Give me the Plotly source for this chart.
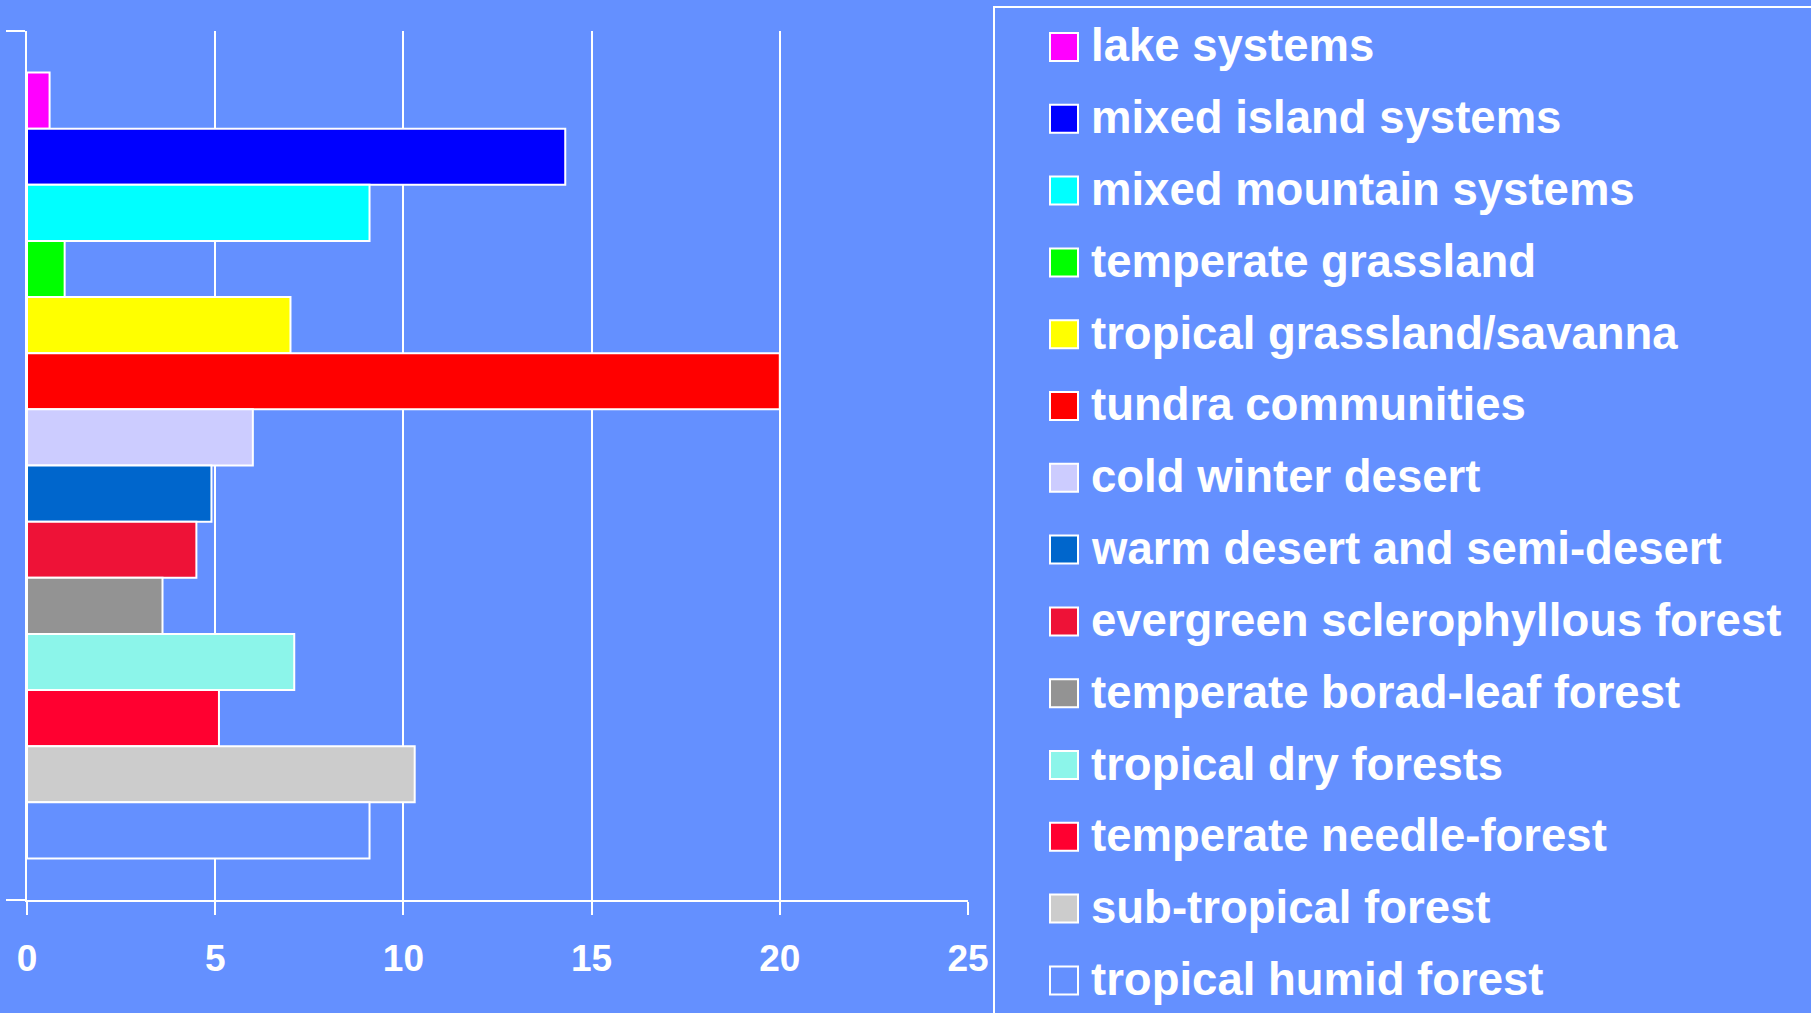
import plotly.graph_objects as go

# Share of area by ecosystem type (%)
categories = [
    "lake systems",
    "mixed island systems",
    "mixed mountain systems",
    "temperate grassland",
    "tropical grassland/savanna",
    "tundra communities",
    "cold winter desert",
    "warm desert and semi-desert",
    "evergreen sclerophyllous forest",
    "temperate borad-leaf forest",
    "tropical dry forests",
    "temperate needle-forest",
    "sub-tropical forest",
    "tropical humid forest",
]
values = [0.6, 14.3, 9.1, 1.0, 7.0, 20.0, 6.0, 4.9, 4.5, 3.6, 7.1, 5.1, 10.3, 9.1]

BG = "#6490FF"
colors = [
    "#FF00FF", "#0000FF", "#00FFFF", "#00FF00", "#FFFF00", "#FF0000",
    "#CCCCFF", "#0066CC", "#EE1237", "#939393", "#8CF5EA", "#FF0030",
    "#CCCCCC", BG,
]

x_ticks = [0, 5, 10, 15, 20, 25]

W, H = 1811, 1013
ML, MR, MT, MB = 27, 843, 31, 113
PW, PH = W - ML - MR, H - MT - MB


def px_x(p):
    return (p - ML) / PW


def px_y(p):
    return (H - MB - p) / PH


FONT = "Liberation Sans, Arial, sans-serif"

fig = go.Figure()
for name, val, col in zip(categories, values, colors):
    fig.add_trace(go.Bar(
        x=[val], y=[""], orientation="h", name=name,
        marker=dict(color=col, line=dict(color="white", width=2)),
        showlegend=False, hoverinfo="skip",
    ))

# Legend panel drawn as shapes and text
shapes = [dict(
    type="rect", xref="paper", yref="paper",
    x0=px_x(994), x1=px_x(1830), y0=px_y(7), y1=px_y(1030),
    line=dict(color="white", width=2), fillcolor="rgba(0,0,0,0)", layer="above",
)]
annotations = []
row0, step = 47, 71.8
for i, (name, col) in enumerate(zip(categories, colors)):
    cy = row0 + step * i
    shapes.append(dict(
        type="rect", xref="paper", yref="paper",
        x0=px_x(1050), x1=px_x(1078), y0=px_y(cy + 14), y1=px_y(cy - 14),
        line=dict(color="white", width=2), fillcolor=col, layer="above",
    ))
    annotations.append(dict(
        xref="paper", yref="paper", x=px_x(1091), y=px_y(cy - 1),
        xanchor="left", yanchor="middle", text=name, showarrow=False,
        borderpad=0, borderwidth=0,
        font=dict(family=FONT, size=45.5, color="white", weight="bold"),
    ))

fig.update_layout(
    width=W, height=H,
    margin=dict(l=ML, r=MR, t=MT, b=MB, pad=0, autoexpand=False),
    paper_bgcolor=BG, plot_bgcolor=BG,
    barmode="group", bargap=0.0955, bargroupgap=0,
    font=dict(family=FONT, color="white", weight="bold"),
    shapes=shapes, annotations=annotations,
    xaxis=dict(
        range=[0, 25], tickvals=x_ticks, ticktext=[str(v) for v in x_ticks],
        showgrid=True, gridcolor="white", gridwidth=2,
        zeroline=False, showline=True, linecolor="white", linewidth=2,
        ticks="outside", ticklen=13, tickwidth=2, tickcolor="white",
        tickfont=dict(family=FONT, size=37, color="white", weight="bold"),
        ticklabelstandoff=12, fixedrange=True, automargin=False,
    ),
    yaxis=dict(
        type="category", autorange="reversed", tickson="boundaries",
        showline=True, linecolor="white", linewidth=2,
        ticks="outside", ticklen=19, tickwidth=2, tickcolor="white",
        showticklabels=False, showgrid=False, zeroline=False,
        fixedrange=True, automargin=False,
    ),
)

fig.write_html("out.html")
